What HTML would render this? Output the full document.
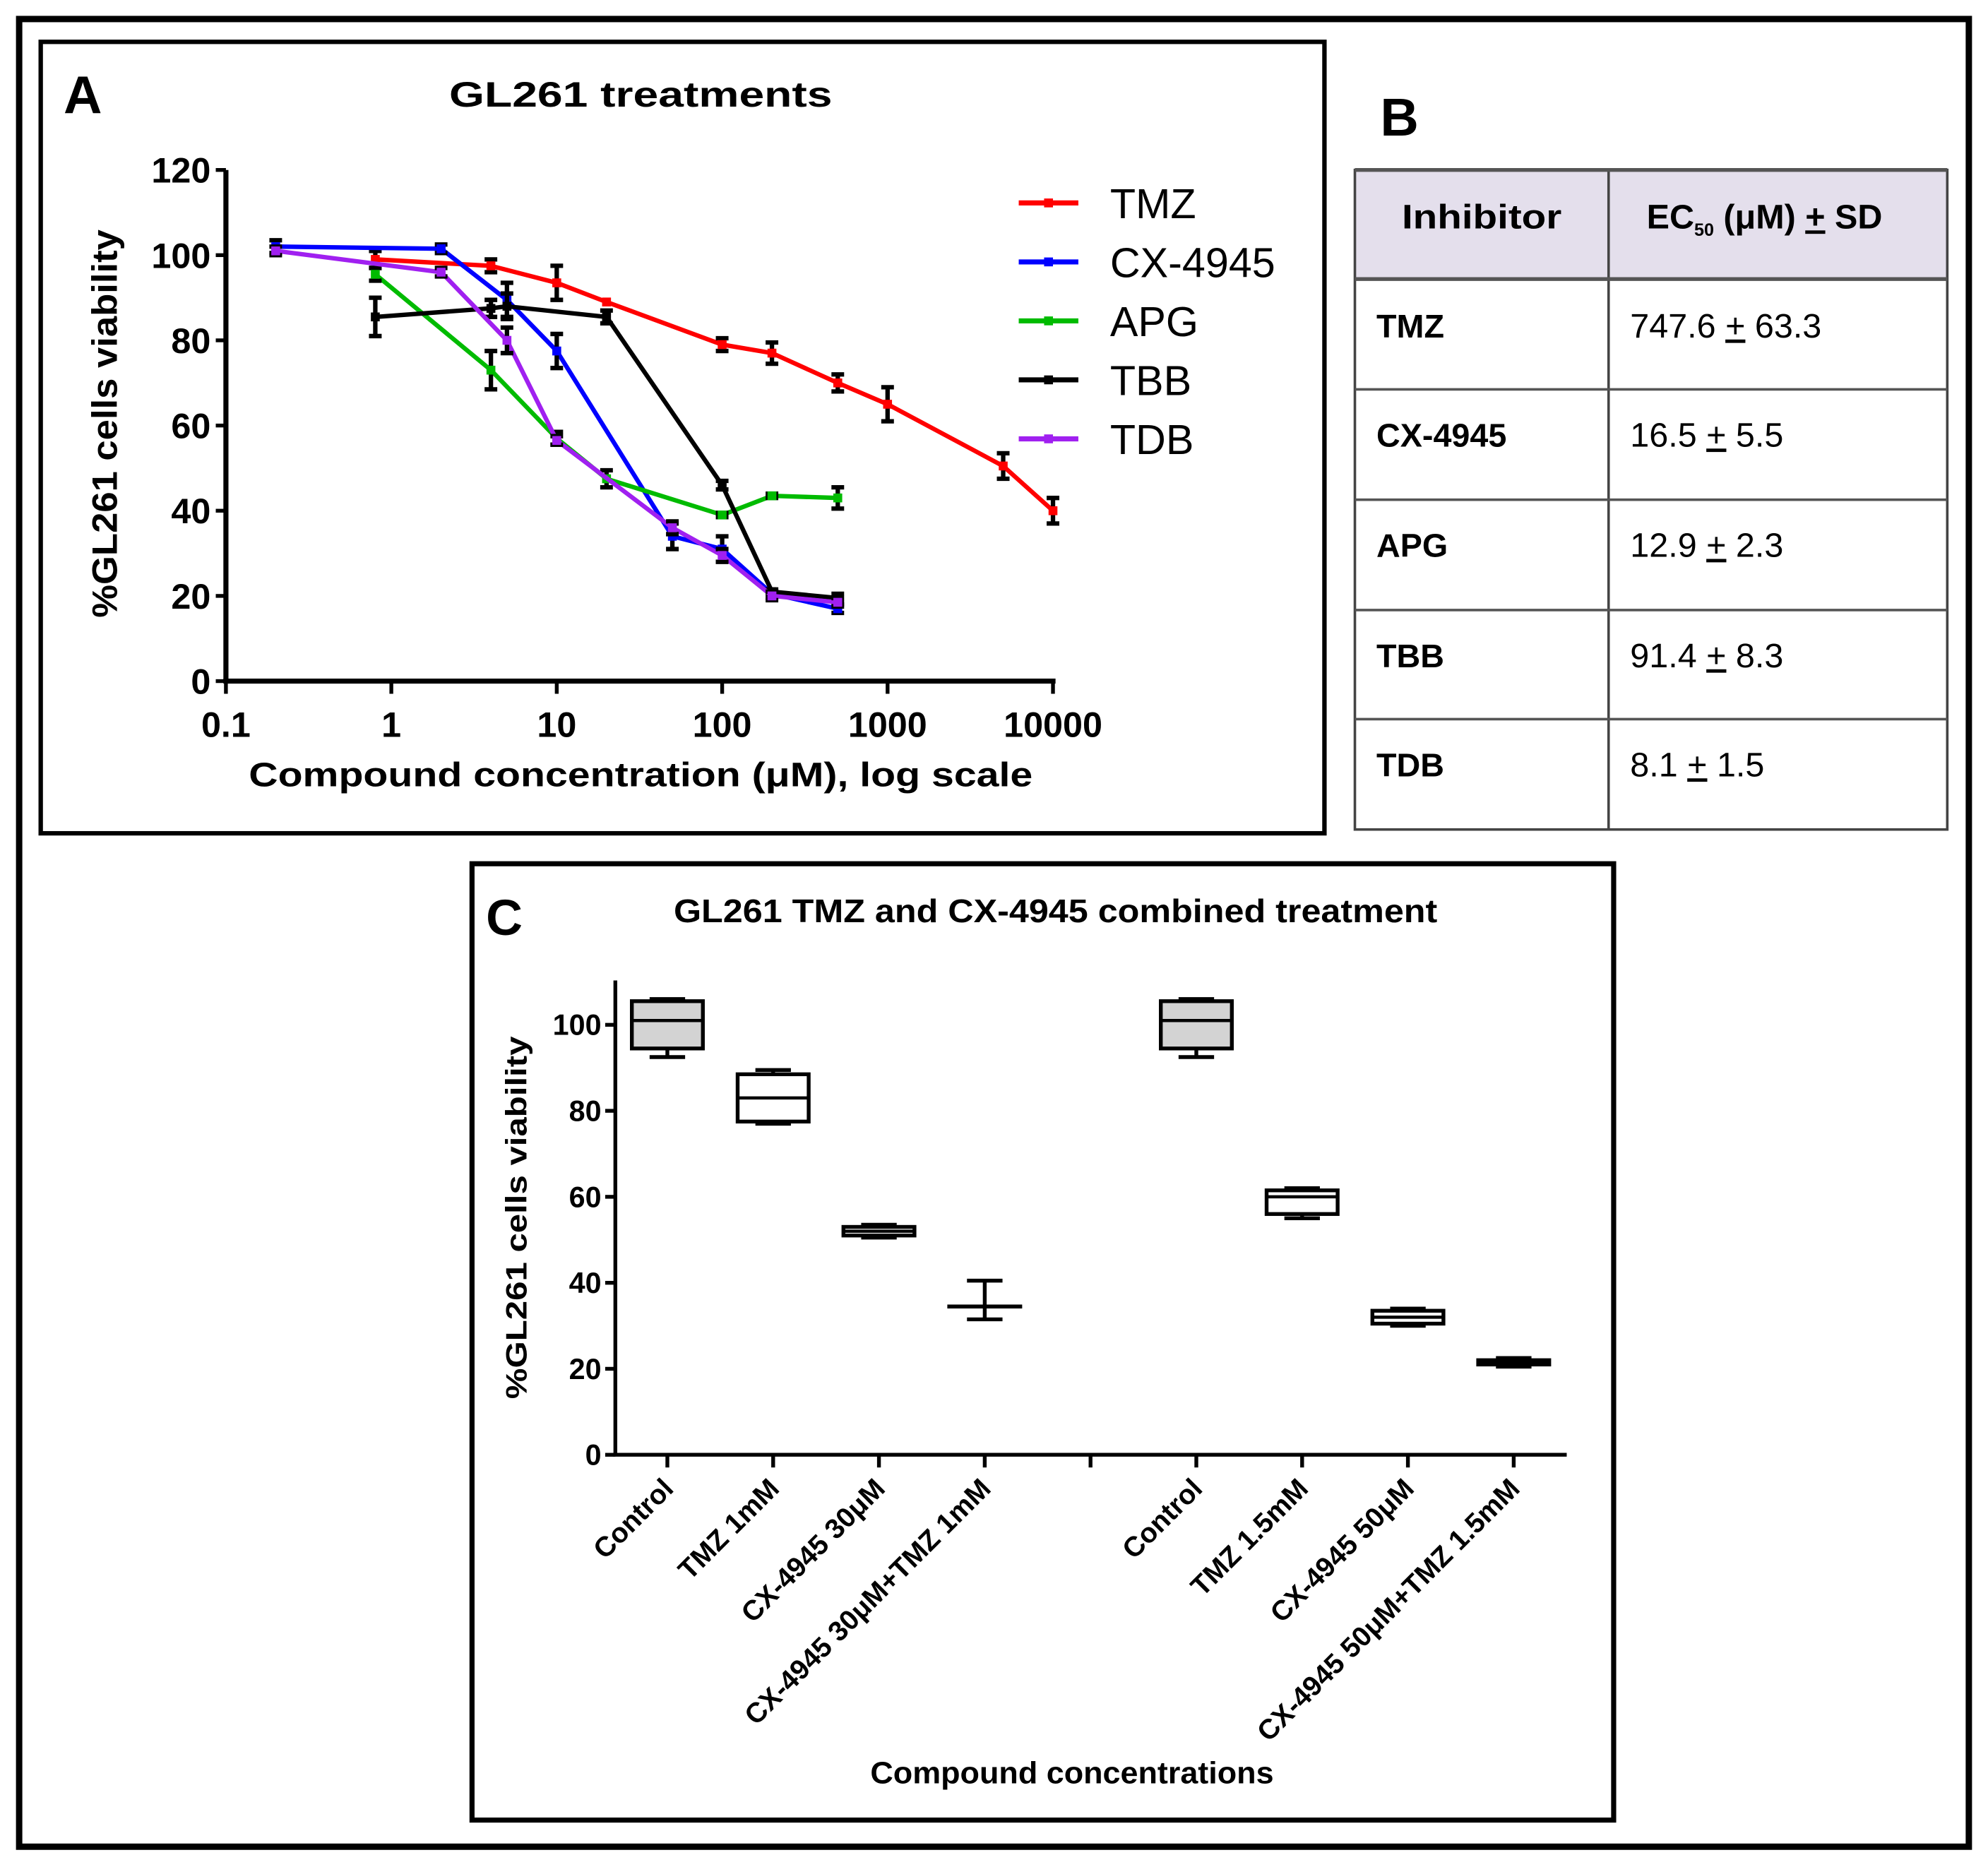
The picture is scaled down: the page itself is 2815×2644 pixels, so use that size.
<!DOCTYPE html>
<html><head><meta charset="utf-8"><style>
html,body{margin:0;padding:0;background:#fff;}
svg{display:block;}
text{font-family:"Liberation Sans",sans-serif;}
</style></head><body>
<svg id="fig" width="2815" height="2644" viewBox="0 0 1567 1472" xmlns="http://www.w3.org/2000/svg">
<rect x="0" y="0" width="1567" height="1472" fill="#fff"/>
<rect x="15" y="15" width="1537" height="1441" fill="none" stroke="#000" stroke-width="5"/>
<!-- Panel A -->
<rect x="32" y="33" width="1012" height="624" fill="none" stroke="#000" stroke-width="3.5"/>
<text x="50" y="89" font-size="42" font-weight="bold">A</text>
<text x="505" y="84" font-size="28" font-weight="bold" text-anchor="middle" textLength="302" lengthAdjust="spacingAndGlyphs">GL261 treatments</text>
<g id="chartA"></g>
<text x="505" y="620" font-size="27" font-weight="bold" text-anchor="middle" textLength="618" lengthAdjust="spacingAndGlyphs">Compound concentration (μM), log scale</text>
<text transform="translate(92,334) rotate(-90)" font-size="28" font-weight="bold" text-anchor="middle" textLength="306" lengthAdjust="spacingAndGlyphs">%GL261 cells viability</text>
<!-- Panel B -->
<text x="1088" y="107" font-size="42" font-weight="bold">B</text>
<g>
<rect x="1068" y="134" width="467" height="86" fill="#e4dfec"/>
<rect x="1068" y="134" width="467" height="520" fill="none" stroke="#444" stroke-width="2"/>
<line x1="1268" y1="134" x2="1268" y2="654" stroke="#444" stroke-width="2"/>
<line x1="1068" y1="134" x2="1535" y2="134" stroke="#555" stroke-width="3"/>
<line x1="1068" y1="220" x2="1535" y2="220" stroke="#555" stroke-width="3"/>
<line x1="1068" y1="307" x2="1535" y2="307" stroke="#555" stroke-width="2"/>
<line x1="1068" y1="394" x2="1535" y2="394" stroke="#555" stroke-width="2"/>
<line x1="1068" y1="481" x2="1535" y2="481" stroke="#555" stroke-width="2"/>
<line x1="1068" y1="567" x2="1535" y2="567" stroke="#555" stroke-width="2"/>
<text x="1168" y="180" font-size="27" font-weight="bold" text-anchor="middle" textLength="126" lengthAdjust="spacingAndGlyphs">Inhibitor</text>
<text x="1298" y="180" font-size="27" font-weight="bold">EC<tspan font-size="14" dy="6">50</tspan><tspan dy="-6"> (μM) </tspan><tspan text-decoration="underline">+</tspan> SD</text>
<text x="1085" y="266" font-size="26" font-weight="bold">TMZ</text>
<text x="1285" y="266" font-size="27">747.6 <tspan text-decoration="underline">+</tspan> 63.3</text>
<text x="1085" y="352" font-size="26" font-weight="bold">CX-4945</text>
<text x="1285" y="352" font-size="27">16.5 <tspan text-decoration="underline">+</tspan> 5.5</text>
<text x="1085" y="439" font-size="26" font-weight="bold">APG</text>
<text x="1285" y="439" font-size="27">12.9 <tspan text-decoration="underline">+</tspan> 2.3</text>
<text x="1085" y="526" font-size="26" font-weight="bold">TBB</text>
<text x="1285" y="526" font-size="27">91.4 <tspan text-decoration="underline">+</tspan> 8.3</text>
<text x="1085" y="612" font-size="26" font-weight="bold">TDB</text>
<text x="1285" y="612" font-size="27">8.1 <tspan text-decoration="underline">+</tspan> 1.5</text>
</g>
<!-- Panel C -->
<rect x="372" y="681" width="900" height="754" fill="none" stroke="#000" stroke-width="4"/>
<text x="383" y="737" font-size="40" font-weight="bold">C</text>
<text x="832" y="727" font-size="26" font-weight="bold" text-anchor="middle" textLength="602" lengthAdjust="spacingAndGlyphs">GL261 TMZ and CX-4945 combined treatment</text>
<g id="chartC"></g>
<text x="845" y="1406" font-size="24" font-weight="bold" text-anchor="middle" textLength="318" lengthAdjust="spacingAndGlyphs">Compound concentrations</text>
<text transform="translate(415,960) rotate(-90)" font-size="23" font-weight="bold" text-anchor="middle" textLength="286" lengthAdjust="spacingAndGlyphs">%GL261 cells viability</text>
</svg>
<script>
// ---- Panel A data ----
const seriesNames = ["TMZ","CX-4945","APG","TBB","TDB"];
const seriesColors = ["#ff0000","#0000ff","#00bb00","#000000","#a020f0"];
const tmzX = [0.8,4,10,20,100,200,500,1000,5000,10000];
const tmzY = [99,97.5,93.5,89,79,77,70,65,50.5,40];
const tmzErr = [2,1.5,4,0,1.5,2.5,2,4,3,3];
const cxX = [0.2,2,5,10,50,100,200,500];
const cxY = [102,101.5,89.5,77.5,34,31,20.5,17];
const cxErr = [1.5,1,4,4,3,3,1,1];
const apgX = [0.8,4,10,20,100,200,500];
const apgY = [95.5,73,57,47.5,39,43.5,43];
const apgErr = [1.5,4.5,1.5,2,0.5,0.5,2.5];
const tbbX = [0.8,4,5,20,100,200,500];
const tbbY = [85.5,87.5,88,85.5,46,21,19.5];
const tbbErr = [4.5,2,3,1.5,1,0.5,1];
const tdbX = [0.2,2,5,10,50,100,200,500];
const tdbY = [101,96,80,56.5,36,29.5,20,18.5];
const tdbErr = [1,1,3,1,1.5,1.5,1,1];
const yTicksA = [0,20,40,60,80,100,120];
const xTicksA = [0.1,1,10,100,1000,10000];
const xTickLabelsA = ["0.1","1","10","100","1000","10000"];

// ---- Panel C data ----
const boxCats = ["Control","TMZ 1mM","CX-4945 30μM","CX-4945 30μM+TMZ 1mM","","Control","TMZ 1.5mM","CX-4945 50μM","CX-4945 50μM+TMZ 1.5mM"];
const boxMin = [92.5,77,50.5,31.5,null,92.5,55,30,20.5];
const boxQ1 = [94.5,77.5,51,34.5,null,94.5,56,30.5,21];
const boxMed = [101,83,52,34.5,null,101,60,32,21.5];
const boxQ3 = [105.5,88.5,53,34.5,null,105.5,61.5,33.5,22];
const boxMax = [106,89.5,53.5,40.5,null,106,62,34,22.5];
const boxFill = ["#d3d3d3","#fff","#fff","#fff",null,"#d3d3d3","#fff","#fff","#fff"];
const yTicksC = [0,20,40,60,80,100];

const NS="http://www.w3.org/2000/svg";
function mk(parent,tag,attrs,txt){const e=document.createElementNS(NS,tag);for(const k in attrs)e.setAttribute(k,attrs[k]);if(txt!==undefined)e.textContent=txt;parent.appendChild(e);return e;}

// Axis functions A
const ax0=178, ax1=830, ay0=537, ay1=134;
const xA=v=>ax0+(Math.log10(v)+1)/5*(ax1-ax0);
const yA=v=>ay0-v/120*(ay0-ay1);
const gA=document.getElementById('chartA');
let e;
e=mk(gA,'line',{x1:ax0,y1:yA(0),x2:ax0,y2:yA(120),stroke:'#000','stroke-width':4});


e=mk(gA,'line',{x1:ax0-2,y1:ay0,x2:ax1+2,y2:ay0,stroke:'#000','stroke-width':4});


yTicksA.forEach(t=>{
  mk(gA,'line',{x1:ax0-8,y1:yA(t),x2:ax0,y2:yA(t),stroke:'#000','stroke-width':3});
  e=mk(gA,'text',{x:ax0-12,y:yA(t)+10,'font-size':28,'font-weight':'bold','text-anchor':'end'},String(t));
  
  
});
xTicksA.forEach((t,i)=>{
  mk(gA,'line',{x1:xA(t),y1:ay0,x2:xA(t),y2:ay0+10,stroke:'#000','stroke-width':3});
  e=mk(gA,'text',{x:xA(t),y:ay0+44,'font-size':28,'font-weight':'bold','text-anchor':'middle'},xTickLabelsA[i]);
  
  
});
const allX=[tmzX,cxX,apgX,tbbX,tdbX], allY=[tmzY,cxY,apgY,tbbY,tdbY], allE=[tmzErr,cxErr,apgErr,tbbErr,tdbErr];
allX.forEach((xs,s)=>{
  const col=seriesColors[s];
  const pts=xs.map((x,i)=>xA(x).toFixed(1)+','+yA(allY[s][i]).toFixed(1)).join(' ');
  e=mk(gA,'polyline',{points:pts,fill:'none',stroke:col,'stroke-width':3.5});
  
  
  xs.forEach((x,i)=>{
    const cx=xA(x), cy=yA(allY[s][i]), er=allE[s][i];
    if(er>0){
      const t=yA(allY[s][i]+er), b=yA(allY[s][i]-er);
      mk(gA,'line',{x1:cx,y1:t,x2:cx,y2:b,stroke:'#000','stroke-width':3.5});
      mk(gA,'line',{x1:cx-5,y1:t,x2:cx+5,y2:t,stroke:'#000','stroke-width':3.5});
      mk(gA,'line',{x1:cx-5,y1:b,x2:cx+5,y2:b,stroke:'#000','stroke-width':3.5});
    }
    e=mk(gA,'rect',{x:cx-3.5,y:cy-3.5,width:7,height:7,fill:col});
    
    
  });
});
// legend
seriesNames.forEach((n,i)=>{
  const ly=160+i*46.5;
  e=mk(gA,'g',{});
  
  
  mk(e,'line',{x1:803,y1:ly,x2:850,y2:ly,stroke:seriesColors[i],'stroke-width':4});
  mk(e,'rect',{x:823,y:ly-3.5,width:7,height:7,fill:seriesColors[i]});
  mk(e,'text',{x:875,y:ly+12,'font-size':33},n);
});

// Axis functions C
const cx0=485, cy0=1147, cyTop=773;
const yC=v=>cy0-v/100*(1147-808);
const xC=i=>526+i*83.4;
const gC=document.getElementById('chartC');
e=mk(gC,'line',{x1:cx0,y1:cyTop,x2:cx0,y2:cy0,stroke:'#000','stroke-width':3});


e=mk(gC,'line',{x1:cx0-2,y1:cy0,x2:1235,y2:cy0,stroke:'#000','stroke-width':3});


yTicksC.forEach(t=>{
  mk(gC,'line',{x1:cx0-8,y1:yC(t),x2:cx0,y2:yC(t),stroke:'#000','stroke-width':3});
  e=mk(gC,'text',{x:cx0-11,y:yC(t)+8,'font-size':23,'font-weight':'bold','text-anchor':'end'},String(t));
  
  
});
boxCats.forEach((c,i)=>{
  const x=xC(i);
  mk(gC,'line',{x1:x,y1:cy0,x2:x,y2:cy0+10,stroke:'#000','stroke-width':3});
  if(c){
    e=mk(gC,'text',{transform:`translate(${x+6},${cy0+28}) rotate(-45)`,'font-size':22,'font-weight':'bold','text-anchor':'end'},c);
    
    
  }
  if(boxMin[i]===null) return;
  const g=mk(gC,'g',{});
  
  
  const w=56, l=x-w/2;
  mk(g,'line',{x1:x,y1:yC(boxMax[i]),x2:x,y2:yC(boxMin[i]),stroke:'#000','stroke-width':3});
  mk(g,'line',{x1:x-w/4,y1:yC(boxMax[i]),x2:x+w/4,y2:yC(boxMax[i]),stroke:'#000','stroke-width':3});
  mk(g,'line',{x1:x-w/4,y1:yC(boxMin[i]),x2:x+w/4,y2:yC(boxMin[i]),stroke:'#000','stroke-width':3});
  mk(g,'rect',{x:l,y:yC(boxQ3[i]),width:w,height:Math.max(0.1,yC(boxQ1[i])-yC(boxQ3[i])),fill:boxFill[i],stroke:'#000','stroke-width':3});
  mk(g,'line',{x1:l,y1:yC(boxMed[i]),x2:l+w,y2:yC(boxMed[i]),stroke:'#000','stroke-width':2.5});
});
</script>
</body></html>
